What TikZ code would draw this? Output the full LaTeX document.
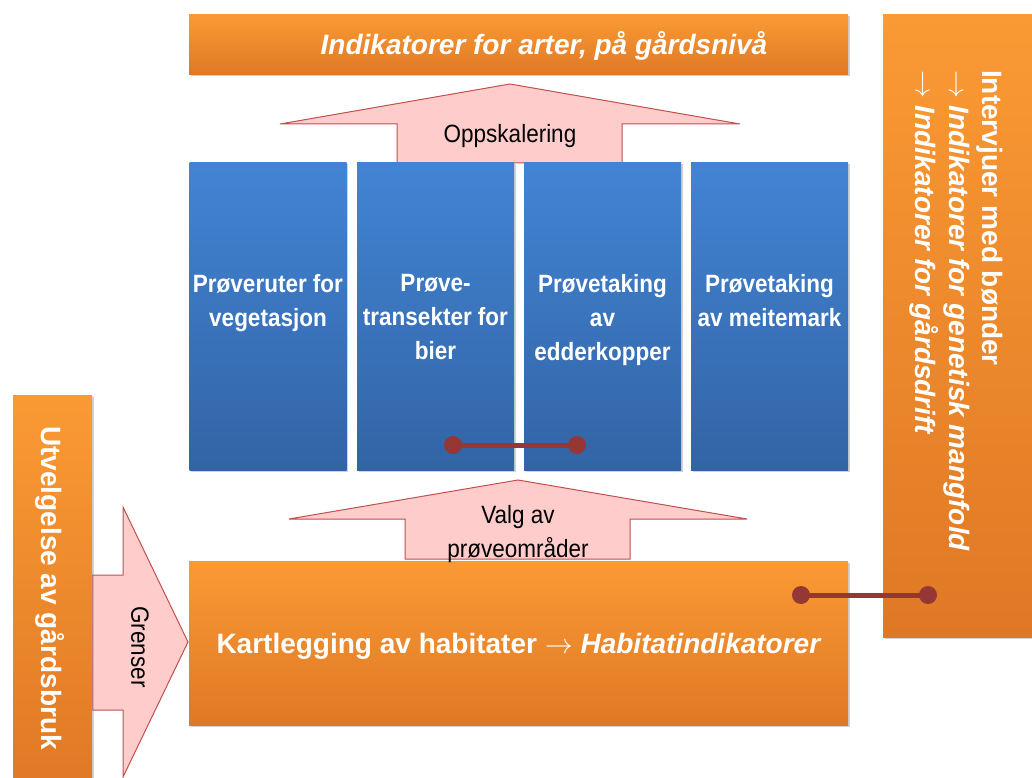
\documentclass[tikz,border=0pt]{standalone}
\usepackage{fix-cm}
\usepackage{fontspec}
\setmainfont{Liberation Sans}
\newfontfamily\condfont{Liberation Sans}[FakeStretch=0.9]
\usetikzlibrary{shadows}
\definecolor{orTop}{RGB}{250,154,52}
\definecolor{orBot}{RGB}{223,120,37}
\definecolor{blTop}{RGB}{66,132,212}
\definecolor{blBot}{RGB}{50,100,165}
\definecolor{pinkFill}{RGB}{255,204,204}
\definecolor{pinkLine}{RGB}{192,80,77}
\definecolor{conn}{RGB}{149,55,53}
\newcommand{\rarr}{$\rightarrow$}
\begin{document}
\begin{tikzpicture}[x=1pt,y=-1pt,
  boxshadow/.style={drop shadow={shadow xshift=1.5pt,shadow yshift=-1.5pt,opacity=0.35}},
  orbox/.style={inner sep=0,top color=orTop,bottom color=orBot,boxshadow},
  blbox/.style={inner sep=0,top color=blTop,bottom color=blBot,boxshadow,minimum width=157pt,minimum height=307pt},
  bigtxt/.style={text=white,inner sep=0,font=\fontsize{28}{33.5}\selectfont\bfseries},
  smalltxt/.style={inner sep=0,align=center,font=\condfont\fontsize{25}{34}\selectfont},
  bluetxt/.style={smalltxt,text=white,anchor=north,font=\condfont\bfseries\fontsize{25}{34}\selectfont},
  blockarrow/.style={fill=pinkFill,draw=pinkLine,line width=1pt,line join=miter},
  link/.style={draw=conn,line width=5pt},
  dot/.style={circle,fill=conn,inner sep=0,minimum size=18pt}]
\useasboundingbox[fill=white] (0,0) rectangle (1032,778);

% block arrows
\path[blockarrow] (510,84) -- (740,124) -- (622,124) -- (622,163) -- (397,163) -- (397,124) -- (280,124) -- cycle;
\path[blockarrow] (518,480) -- (747,519) -- (630,519) -- (630,559) -- (405,559) -- (405,519) -- (289,519) -- cycle;
\path[blockarrow] (92,575) -- (123,575) -- (123,507) -- (188,642) -- (123,777) -- (123,710) -- (92,710) -- cycle;

% boxes
\node[orbox,minimum width=659pt,minimum height=60pt] (topbar) at (518.5,45) {};
\node[orbox,minimum width=659pt,minimum height=164pt] (kart) at (518.5,643) {};
\node[orbox,minimum width=160pt,minimum height=622pt] (rightbox) at (963,326) {};
\node[orbox,minimum width=79pt,minimum height=400pt] (leftbox) at (52.5,595) {};
\node[blbox] (b1) at (268,316.5) {};
\node[blbox] (b2) at (435.5,316.5) {};
\node[blbox] (b3) at (602.5,316.5) {};
\node[blbox] (b4) at (769.5,316.5) {};

% texts
\node[bigtxt,font=\fontsize{28}{33}\selectfont\bfseries\itshape,anchor=base] (toptxt) at (544,55) {Indikatorer for arter, på gårdsnivå};
\node[smalltxt,anchor=base] (opptxt) at (510,143) {Oppskalering};
\node[bluetxt] (t1) at (268,274) {Prøveruter for\\vegetasjon};
\node[bluetxt] (t2) at (435.5,274) {Prøve-\\transekter for\\bier};
\node[bluetxt] (t3) at (602.5,274) {Prøvetaking\\av\\edderkopper};
\node[bluetxt] (t4) at (769.5,274) {Prøvetaking\\av meitemark};
\node[smalltxt,anchor=north] (valgtxt) at (518,505) {Valg av\\prøveområder};
\node[bigtxt,anchor=base] (karttxt) at (519,653) {Kartlegging av habitater \rarr{} \textit{Habitatindikatorer}};
\node[bigtxt,rotate=-90] (lefttxt) at (50,588) {Utvelgelse av gårdsbruk};
\node[bigtxt,rotate=-90,anchor=north west,align=left] (righttxt) at (1003,70) {Intervjuer med bønder\\\rarr{} \textit{Indikatorer for genetisk mangfold}\\\rarr{} \textit{Indikatorer for gårdsdrift}};
\node[smalltxt,rotate=-90] (grtxt) at (140,647) {Grenser};

% links
\coordinate (l1a) at (453,445);
\coordinate (l1b) at (577,445);
\coordinate (l2a) at (801,595);
\coordinate (l2b) at (928,595);
\draw[link] (l1a) -- (l1b);
\draw[link] (l2a) -- (l2b);
\node[dot] (d1a) at (l1a) {};
\node[dot] (d1b) at (l1b) {};
\node[dot] (d2a) at (l2a) {};
\node[dot] (d2b) at (l2b) {};
\end{tikzpicture}
\end{document}
